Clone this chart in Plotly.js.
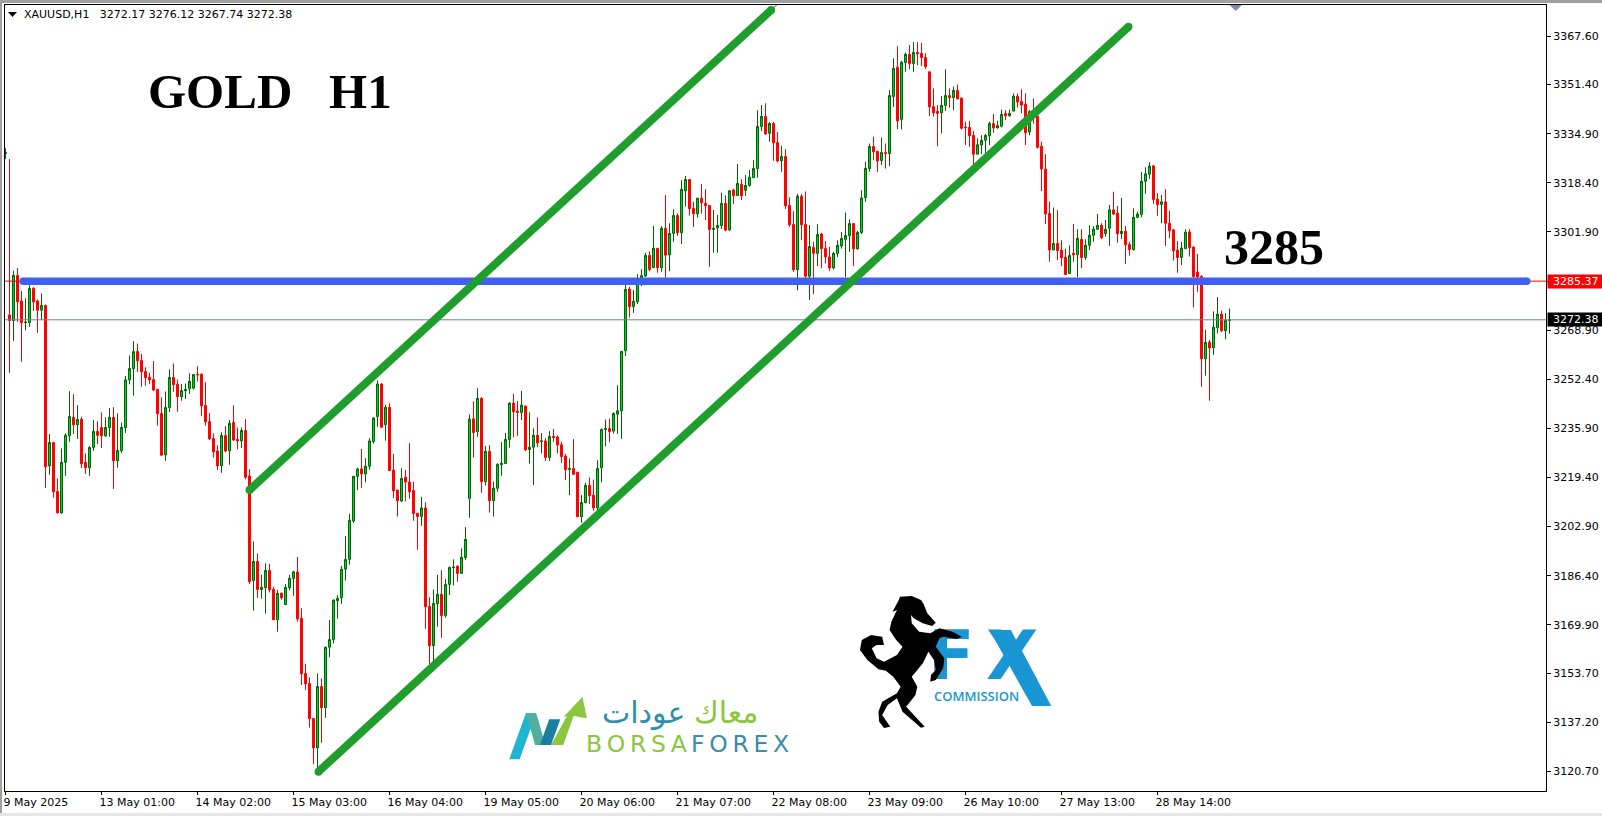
<!DOCTYPE html>
<html><head><meta charset="utf-8">
<script src="https://cdn.plot.ly/plotly-3.0.1.min.js"></script>
<style>html,body{margin:0;padding:0;background:#fff;overflow:hidden}#c{width:1602px;height:816px}</style>
</head><body><div id="c"></div>
<script>
var opens=[3328.2,3274.0,3272.1,3287.3,3278.7,3271.4,3271.4,3283.0,3278.7,3275.6,
3277.2,3223.3,3231.2,3214.7,3207.5,3224.5,3233.4,3239.6,3237.1,3239.0,
3224.5,3222.7,3229.5,3234.9,3236.2,3233.4,3236.2,3239.6,3225.0,3228.4,
3236.2,3252.2,3256.0,3261.7,3258.7,3255.0,3253.1,3252.3,3249.0,3240.9,
3227.0,3242.9,3253.0,3250.7,3246.5,3248.5,3249.2,3249.4,3254.1,3254.1,
3243.6,3238.2,3232.5,3228.3,3223.3,3233.5,3228.4,3237.9,3232.2,3231.7,
3235.2,3219.9,3184.8,3191.2,3181.8,3182.4,3188.2,3181.8,3171.6,3180.6,
3176.7,3182.4,3185.5,3187.7,3172.1,3153.6,3150.2,3138.5,3128.6,3149.2,
3142.1,3162.4,3165.0,3178.0,3179.0,3188.6,3191.9,3204.8,3219.8,3222.3,
3220.6,3223.2,3231.5,3239.9,3250.8,3237.2,3243.0,3221.9,3215.2,3211.5,
3219.5,3217.9,3215.0,3207.4,3206.3,3209.2,3176.1,3162.9,3177.0,3180.2,
3173.0,3183.5,3189.1,3189.7,3187.2,3192.5,3212.4,3239.1,3234.8,3246.0,
3218.0,3228.2,3211.6,3215.8,3223.7,3224.1,3232.2,3244.4,3241.7,3241.2,
3243.4,3228.8,3229.6,3233.6,3231.5,3231.7,3226.1,3233.2,3233.0,3230.4,
3226.6,3222.1,3222.4,3221.2,3206.2,3211.0,3216.8,3213.5,3209.2,3222.7,
3235.5,3235.9,3235.0,3240.7,3241.8,3262.0,3282.7,3276.8,3278.4,3286.3,
3287.1,3294.0,3289.9,3296.4,3289.9,3303.1,3294.2,3301.4,3307.4,3301.6,
3315.7,3319.5,3309.8,3308.0,3313.2,3311.5,3310.8,3302.7,3303.3,3304.0,
3311.5,3302.6,3316.0,3314.1,3317.9,3315.9,3317.5,3320.1,3323.2,3337.3,
3340.7,3335.0,3338.3,3331.9,3325.8,3327.2,3310.8,3304.4,3289.2,3313.9,
3304.4,3287.0,3296.7,3294.7,3301.2,3296.3,3293.5,3289.8,3294.7,3297.2,
3299.4,3300.6,3304.7,3296.2,3301.7,3313.4,3323.2,3330.6,3328.9,3325.9,
3328.6,3328.2,3347.4,3357.2,3339.7,3358.8,3361.5,3358.5,3362.2,3361.9,
3360.5,3355.7,3344.0,3342.4,3341.9,3344.4,3347.7,3347.0,3349.4,3346.9,
3337.1,3337.0,3334.3,3328.0,3331.1,3332.7,3334.2,3338.3,3336.8,3337.4,
3341.7,3340.9,3342.5,3347.5,3345.7,3344.8,3335.5,3342.3,3340.8,3330.7,
3323.0,3308.1,3295.8,3298.0,3295.8,3293.4,3287.9,3294.7,3294.2,3299.4,
3293.3,3297.4,3300.8,3302.8,3304.1,3301.4,3303.1,3309.3,3308.2,3301.3,
3302.1,3297.7,3296.0,3306.8,3307.8,3318.9,3321.3,3324.1,3312.9,3311.1,
3312.0,3304.8,3302.6,3295.8,3293.3,3296.3,3301.9,3296.8,3288.4,3286.9,
3259.3,3264.9,3263.0,3269.7,3274.3,3268.7,3272.17];
var highs=[3330.0,3326.4,3288.9,3289.8,3282.0,3279.6,3284.0,3283.3,3279.2,3281.2,
3277.5,3234.0,3231.4,3219.1,3229.2,3234.2,3248.4,3247.4,3243.7,3239.8,
3227.5,3229.9,3238.7,3238.3,3241.3,3239.6,3242.8,3243.0,3240.9,3237.9,
3253.5,3260.4,3265.2,3264.4,3260.9,3256.4,3254.6,3258.5,3249.2,3246.3,
3248.3,3255.7,3257.7,3252.3,3250.8,3251.0,3254.4,3254.1,3256.8,3254.4,
3251.4,3241.1,3234.2,3230.2,3234.6,3236.7,3238.7,3243.6,3236.2,3236.2,
3239.0,3222.2,3197.9,3193.9,3186.7,3190.6,3190.4,3182.7,3181.6,3180.6,
3183.6,3186.7,3188.1,3192.7,3175.5,3156.8,3152.3,3138.5,3153.6,3151.9,
3162.6,3171.5,3178.5,3179.9,3189.7,3199.8,3207.2,3219.9,3222.7,3229.0,
3225.9,3232.6,3239.6,3252.0,3251.1,3243.8,3244.3,3227.3,3215.2,3222.5,
3221.9,3230.9,3218.0,3207.4,3212.9,3211.1,3179.2,3181.8,3186.7,3188.3,
3185.3,3189.5,3191.9,3189.7,3195.6,3202.7,3240.6,3245.0,3249.4,3246.4,
3230.0,3230.2,3218.0,3224.2,3231.3,3234.3,3244.7,3247.5,3245.1,3248.5,
3243.6,3241.3,3235.9,3239.6,3234.3,3232.6,3235.0,3235.7,3233.6,3231.4,
3227.3,3225.8,3232.3,3221.2,3213.5,3217.6,3219.4,3218.7,3225.2,3235.9,
3238.9,3239.2,3241.3,3250.4,3261.8,3284.3,3283.5,3282.4,3287.7,3289.4,
3294.9,3295.4,3303.9,3296.4,3303.9,3314.3,3304.8,3309.5,3308.1,3319.3,
3320.7,3319.5,3312.0,3313.4,3318.0,3316.2,3310.8,3309.2,3307.6,3315.1,
3314.2,3316.0,3316.4,3324.7,3319.6,3321.0,3322.7,3326.0,3342.8,3344.5,
3345.1,3338.7,3338.8,3335.5,3330.8,3329.7,3313.5,3308.8,3314.7,3314.6,
3315.5,3304.2,3298.6,3304.5,3301.6,3298.8,3296.9,3295.2,3299.1,3301.9,
3308.4,3306.1,3304.7,3302.2,3315.9,3325.5,3331.6,3333.9,3329.2,3333.6,
3331.6,3349.5,3360.2,3364.3,3359.4,3362.1,3364.7,3365.7,3365.7,3365.4,
3361.9,3355.7,3350.1,3344.5,3347.5,3356.5,3350.1,3350.7,3351.4,3346.9,
3338.9,3339.2,3335.8,3333.3,3334.4,3334.8,3338.9,3341.5,3339.2,3343.0,
3342.8,3343.0,3348.4,3348.4,3349.8,3348.4,3342.8,3346.7,3340.8,3332.2,
3328.0,3312.1,3310.1,3309.2,3299.1,3296.3,3297.4,3304.6,3302.8,3302.8,
3299.4,3304.1,3303.9,3307.9,3304.8,3305.9,3311.0,3315.4,3310.6,3313.3,
3303.9,3298.6,3309.8,3308.7,3322.0,3323.6,3325.3,3324.4,3314.9,3314.3,
3316.2,3309.0,3302.8,3298.8,3298.5,3302.8,3302.8,3297.0,3294.5,3287.4,
3269.0,3265.6,3275.2,3280.0,3275.5,3274.6,3276.12];
var lows=[3326.4,3254.6,3265.3,3271.7,3258.3,3268.9,3270.0,3275.3,3268.0,3272.3,
3215.9,3220.3,3212.6,3207.5,3207.3,3220.0,3231.4,3234.0,3232.4,3222.6,
3220.6,3220.0,3228.4,3230.6,3229.3,3233.0,3233.1,3215.6,3222.7,3227.7,
3234.4,3250.7,3246.9,3254.9,3249.9,3250.2,3250.8,3248.4,3236.8,3226.6,
3225.0,3241.4,3248.2,3241.5,3245.2,3245.8,3247.5,3249.0,3251.6,3240.1,
3236.8,3232.0,3226.1,3221.9,3221.0,3227.9,3223.7,3231.7,3228.9,3229.3,
3218.8,3183.6,3174.7,3179.0,3178.7,3173.7,3180.8,3171.6,3167.6,3178.3,
3176.7,3181.6,3179.7,3171.0,3149.7,3148.0,3135.4,3123.2,3121.7,3130.3,
3138.7,3159.0,3163.6,3172.0,3177.0,3184.8,3190.1,3204.2,3215.2,3215.9,
3217.8,3222.0,3230.8,3236.5,3236.1,3231.8,3221.7,3212.5,3206.3,3211.2,
3211.4,3212.3,3204.9,3195.1,3203.2,3168.6,3156.4,3157.5,3169.3,3165.6,
3172.3,3179.9,3183.1,3184.4,3187.2,3191.7,3205.9,3226.1,3233.1,3214.3,
3216.7,3207.6,3206.3,3214.7,3220.0,3224.1,3229.4,3232.9,3233.4,3238.7,
3228.3,3224.1,3216.9,3229.6,3227.5,3225.0,3225.0,3231.4,3227.5,3224.3,
3218.5,3213.5,3220.2,3206.2,3204.2,3210.7,3210.5,3208.2,3208.1,3217.8,
3229.9,3231.2,3234.2,3234.1,3232.4,3260.2,3273.1,3274.7,3277.7,3283.7,
3286.8,3288.7,3289.9,3288.2,3288.5,3286.5,3288.7,3298.6,3300.5,3297.8,
3310.4,3307.4,3303.6,3306.7,3308.1,3305.9,3290.2,3294.9,3294.9,3302.9,
3302.1,3302.2,3311.3,3314.1,3312.6,3314.0,3317.1,3320.0,3320.1,3335.8,
3334.5,3332.2,3325.8,3325.2,3322.1,3309.6,3303.6,3288.5,3282.3,3299.1,
3286.3,3279.0,3281.0,3290.4,3289.7,3291.3,3288.8,3289.3,3293.5,3296.3,
3286.7,3295.2,3290.4,3296.0,3301.2,3312.0,3322.1,3326.0,3322.1,3324.3,
3323.2,3324.0,3343.9,3336.4,3336.3,3355.7,3356.6,3355.7,3357.9,3357.6,
3356.6,3340.8,3340.6,3330.7,3335.0,3342.6,3343.6,3342.8,3346.4,3336.3,
3331.1,3330.5,3324.3,3328.0,3328.0,3328.0,3331.1,3335.2,3336.7,3337.0,
3339.5,3340.6,3342.3,3343.7,3341.7,3331.1,3334.4,3338.3,3329.9,3315.6,
3304.5,3291.9,3295.8,3292.4,3290.4,3287.4,3287.8,3291.9,3286.7,3289.7,
3292.5,3295.8,3298.6,3302.6,3299.5,3300.3,3297.2,3307.6,3298.3,3299.5,
3291.1,3293.9,3295.6,3306.5,3306.8,3314.7,3319.7,3311.3,3307.3,3304.8,
3297.2,3299.8,3292.3,3288.2,3290.8,3296.1,3293.6,3276.5,3281.8,3249.9,
3253.6,3245.2,3260.6,3267.8,3268.3,3265.8,3267.74];
var closes=[3328.6,3272.1,3287.3,3278.4,3271.4,3271.6,3282.9,3278.4,3275.6,3277.2,
3223.0,3231.2,3214.6,3207.5,3224.5,3233.6,3239.9,3237.1,3238.9,3224.0,
3222.7,3229.5,3234.9,3233.6,3233.4,3236.2,3239.6,3225.0,3228.5,3236.2,
3252.2,3256.0,3261.7,3258.6,3254.9,3252.9,3252.2,3248.8,3240.8,3226.9,
3242.9,3253.0,3250.6,3246.5,3248.6,3249.0,3251.7,3254.0,3253.9,3243.5,
3238.1,3232.4,3228.0,3223.3,3233.5,3228.3,3237.6,3232.0,3231.7,3235.2,
3219.5,3184.4,3191.2,3181.8,3182.5,3188.2,3181.7,3171.6,3180.5,3179.0,
3182.5,3185.5,3187.7,3171.9,3153.5,3150.1,3138.4,3128.6,3149.2,3142.1,
3162.4,3165.0,3178.2,3178.8,3188.6,3191.9,3205.0,3219.8,3222.3,3220.6,
3223.2,3231.7,3239.4,3250.8,3236.3,3243.0,3221.7,3214.9,3211.6,3219.1,
3217.9,3214.6,3207.3,3206.3,3209.2,3176.0,3162.9,3177.1,3180.2,3173.0,
3183.5,3189.2,3189.3,3187.2,3192.6,3198.6,3239.0,3234.5,3246.0,3218.0,
3228.2,3211.6,3215.8,3223.8,3224.2,3232.2,3244.4,3241.5,3241.2,3243.7,
3228.7,3229.6,3233.6,3231.0,3231.7,3226.1,3233.2,3232.8,3230.3,3226.4,
3222.0,3222.4,3220.5,3206.2,3211.0,3216.8,3213.3,3209.2,3222.4,3235.5,
3235.9,3234.8,3240.9,3241.8,3261.8,3282.6,3276.8,3278.6,3286.3,3287.2,
3294.0,3289.3,3296.4,3289.9,3303.1,3294.1,3301.4,3307.4,3301.6,3316.2,
3319.5,3309.7,3308.0,3313.2,3311.7,3310.7,3302.7,3303.1,3304.1,3311.5,
3302.5,3315.7,3314.1,3318.2,3314.0,3317.5,3320.3,3323.2,3337.3,3340.7,
3334.8,3338.3,3331.8,3325.7,3327.2,3310.7,3304.3,3289.2,3313.9,3304.3,
3287.0,3297.0,3294.7,3301.0,3296.3,3293.5,3289.8,3294.7,3297.4,3299.7,
3300.7,3304.7,3296.2,3301.7,3313.3,3323.2,3330.6,3328.8,3325.7,3328.6,
3328.2,3347.7,3356.8,3339.2,3358.9,3361.6,3358.4,3362.2,3361.7,3360.5,
3357.4,3343.9,3341.9,3341.7,3344.4,3347.7,3347.0,3349.4,3346.6,3336.7,
3336.9,3334.2,3328.0,3331.2,3332.6,3334.3,3338.3,3336.8,3337.6,3341.4,
3340.9,3341.7,3347.5,3345.5,3344.5,3335.2,3342.3,3340.6,3330.3,3323.0,
3307.9,3295.8,3298.0,3295.6,3293.2,3287.6,3294.0,3294.2,3299.8,3293.3,
3297.4,3300.8,3302.8,3304.1,3300.0,3302.8,3309.3,3307.9,3301.3,3302.1,
3297.6,3296.0,3306.8,3307.9,3318.9,3321.4,3324.0,3312.8,3311.0,3312.0,
3304.8,3302.3,3295.5,3293.3,3296.5,3301.8,3296.6,3286.9,3286.7,3259.3,
3264.8,3262.9,3269.9,3274.3,3268.7,3272.2,3272.38];
var bars=opens.map(function(_,i){return i;});
var priceTicks=[3367.60,3351.40,3334.90,3318.40,3301.90,3285.40,3268.90,3252.40,3235.90,3219.40,3202.90,3186.40,3169.90,3153.70,3137.20,3120.70];
var priceLabels=['3367.60','3351.40','3334.90','3318.40','3301.90','','3268.90','3252.40','3235.90','3219.40','3202.90','3186.40','3169.90','3153.70','3137.20','3120.70'];
var timeTicks=[0,24,48,72,96,120,144,168,192,216,240,264,288];
var timeLabels=['9 May 2025','13 May 01:00','14 May 02:00','15 May 03:00','16 May 04:00','19 May 05:00','20 May 06:00','21 May 07:00','22 May 08:00','23 May 09:00','26 May 10:00','27 May 13:00','28 May 14:00'];
var resistance=3285.37, lastPrice=3272.38;
var channelUpperX=[61,191.4], channelUpperY=[3215.2,3376.4];
var channelUpperExtX=[191.4,195], channelUpperExtY=[3376.4,3380.9];
var channelLowerX=[78.25,280.75], channelLowerY=[3120.6,3370.8];
var levelX=[4.4,380.3], levelEdgesX=[-1,386];

var L=5,R=1546,T=5,B=791;
function xp(x){return (x-L)/(R-L);}
function yp(y){return (B-y)/(B-T);}
function path(pts){return 'M'+pts.map(function(p){return xp(p[0]).toFixed(5)+','+yp(p[1]).toFixed(5);}).join('L')+'Z';}
function shape(pts,color){return {type:'path',xref:'paper',yref:'paper',path:path(pts),fillcolor:color,line:{width:0},layer:'above'};}
function rect(x0,y0,x1,y1,color){return shape([[x0,y0],[x1,y0],[x1,y1],[x0,y1]],color);}
function z(pts){return pts.map(function(p){return [490+p[0]/2.703,580+p[1]/3];});}
function idx(px){return (px-5.5)/4;}
function prc(py){return 3379.8-0.3359*py;}

var horse=[[1108,50],[1140,48],[1165,60],[1172,72],[1182,100],[1205,128],[1195,138],[1170,130],[1145,115],[1138,105],[1140,130],[1160,155],[1190,160],[1215,145],[1250,155],[1275,170],[1262,177],[1225,170],[1215,175],[1205,200],[1228,235],[1225,265],[1205,300],[1190,305],[1192,285],[1205,270],[1200,240],[1185,215],[1170,250],[1140,290],[1155,320],[1150,345],[1125,380],[1175,440],[1165,443],[1115,395],[1100,355],[1075,375],[1060,405],[1082,440],[1065,444],[1052,425],[1050,395],[1060,365],[1100,340],[1110,320],[1090,290],[1070,272],[1050,268],[1020,240],[1000,210],[1005,180],[1030,165],[1060,170],[1065,195],[1045,195],[1032,205],[1045,235],[1065,245],[1100,225],[1115,200],[1098,180],[1080,150],[1085,125],[1100,90],[1088,95],[1105,60]];

var shapes=[
 rect(0,0,1602,3,'#a0a0a0'),
 rect(0,0,2,816,'#a0a0a0'),
 rect(0,813,1602,816,'#e6e6e6'),
 shape([[8,12],[17,12],[12.5,17]],'#000'),
 shape([[1229.5,5],[1242,5],[1235.7,11]],'#8090a4'),
 shape(z([[1350,150],[1408,150],[1517,378],[1465,378]]),'#1a96d4'),
 shape(z(horse),'#000'),
 shape(z([[52,538],[80,538],[125,400],[97,400]]),'#1fb5d2'),
 shape(z([[97,400],[125,400],[150,495],[122,495]]),'#4fb0a0'),
 shape(z([[135,495],[165,495],[190,418],[160,418]]),'#1a7fa0'),
 shape(z([[165,495],[198,495],[226,408],[262,415],[250,350],[198,412],[208,408]]),'#8cc63f')
];

var traces=[
 {type:'candlestick',x:bars,open:opens,high:highs,low:lows,close:closes,whiskerwidth:0,hoverinfo:'skip',
  increasing:{line:{color:'#006400',width:1},fillcolor:'#00d040'},
  decreasing:{line:{color:'#ff0000',width:1},fillcolor:'#ff0000'}},
 {type:'scatter',mode:'lines',x:levelEdgesX,y:[lastPrice,lastPrice],line:{color:'#708090',width:1},hoverinfo:'skip'},
 {type:'scatter',mode:'lines',x:levelEdgesX,y:[resistance,resistance],line:{color:'#ff0000',width:1},hoverinfo:'skip'},
 {type:'scatter',mode:'lines',x:channelUpperExtX,y:channelUpperExtY,line:{color:'#ff0000',width:1},hoverinfo:'skip'},
 {type:'scatter',mode:'lines+markers',x:levelX,y:[resistance,resistance],line:{color:'#4060f5',width:7.5},marker:{color:'#4060f5',size:7.5},hoverinfo:'skip'},
 {type:'scatter',mode:'lines+markers',x:channelUpperX,y:channelUpperY,line:{color:'#1f9e2e',width:8},marker:{color:'#1f9e2e',size:8},hoverinfo:'skip'},
 {type:'scatter',mode:'lines+markers',x:channelLowerX,y:channelLowerY,line:{color:'#1f9e2e',width:8},marker:{color:'#1f9e2e',size:8},hoverinfo:'skip'},
 {type:'scatter',mode:'text',x:[idx(928),idx(986)],y:[prc(661.5),prc(661.5)],text:['F','X'],textposition:'middle right',textfont:{family:'DejaVu Sans',size:68,color:'#1a96d4',weight:700},hoverinfo:'skip'}
];

function ann(text,x,y,font,extra){
 var a={text:text,xref:'paper',yref:'paper',x:xp(x),y:yp(y),xanchor:'left',yanchor:'middle',showarrow:false,font:font,borderpad:0};
 for(var k in extra)a[k]=extra[k];
 return a;
}
var SERIF='Liberation Serif';
var sp='\u2009';
var annotations=[
 ann('XAUUSD,H1&nbsp;&nbsp;&nbsp;3272.17 3276.12 3267.74 3272.38',22.5,14.5,{family:'DejaVu Sans',size:11,color:'#000'}),
 ann('<b>GOLD\u00a0\u00a0\u00a0H1</b>',147,91,{family:SERIF,size:49,color:'#000'}),
 ann('<b>3285</b>',1223,247,{family:SERIF,size:50,color:'#000'}),
 {text:'3285.37',xref:'paper',yref:'y',x:xp(1546.5),y:resistance,xanchor:'left',yanchor:'middle',showarrow:false,bgcolor:'#ff0000',width:55.5,height:13,align:'center',font:{family:'DejaVu Sans',size:11,color:'#fff'},borderpad:0},
 {text:'3272.38',xref:'paper',yref:'y',x:xp(1546.5),y:lastPrice,xanchor:'left',yanchor:'middle',showarrow:false,bgcolor:'#000000',width:55.5,height:13,align:'center',font:{family:'DejaVu Sans',size:11,color:'#fff'},borderpad:0},
 ann('COMMISSION',933,696,{family:'Open Sans',size:13,color:'#1a96d4',weight:600}),
 ann('BORSA'.split('').join(sp),585,743.5,{family:'DejaVu Sans',size:23.5,color:'#8cc63f'}),
 ann('FOREX'.split('').join(sp),690,743.5,{family:'DejaVu Sans',size:23.5,color:'#3a8ea8'}),
 ann('معاك',693,712,{family:'DejaVu Sans',size:30,color:'#8cc63f'}),
 ann('عودات',601,712,{family:'DejaVu Sans',size:30,color:'#2d8fa8'})
];

var layout={
 width:1602,height:816,autosize:false,showlegend:false,paper_bgcolor:'#fff',plot_bgcolor:'#fff',
 margin:{l:L,r:1602-R,t:T,b:816-B,pad:0},
 hovermode:false,dragmode:false,
 xaxis:{type:'linear',range:[-0.125,385.125],tickmode:'array',tickvals:timeTicks,ticktext:timeLabels,ticks:'outside',ticklen:3,tickcolor:'#000',
  ticklabelposition:'outside right',ticklabelshift:-3,ticklabelstandoff:1,showgrid:false,zeroline:false,showline:true,linecolor:'#000',linewidth:1,mirror:true,
  tickfont:{family:'DejaVu Sans',size:11,color:'#000'},rangeslider:{visible:false},fixedrange:true},
 yaxis:{side:'right',range:[prc(B),prc(T)],tickmode:'array',tickvals:priceTicks,ticktext:priceLabels,ticks:'outside',ticklen:4,tickcolor:'#000',
  showgrid:false,zeroline:false,showline:true,linecolor:'#000',linewidth:1,mirror:true,
  tickfont:{family:'DejaVu Sans',size:11,color:'#000'},fixedrange:true},
 shapes:shapes,annotations:annotations
};
Plotly.newPlot('c',traces,layout,{displayModeBar:false,staticPlot:true});
</script></body></html>
